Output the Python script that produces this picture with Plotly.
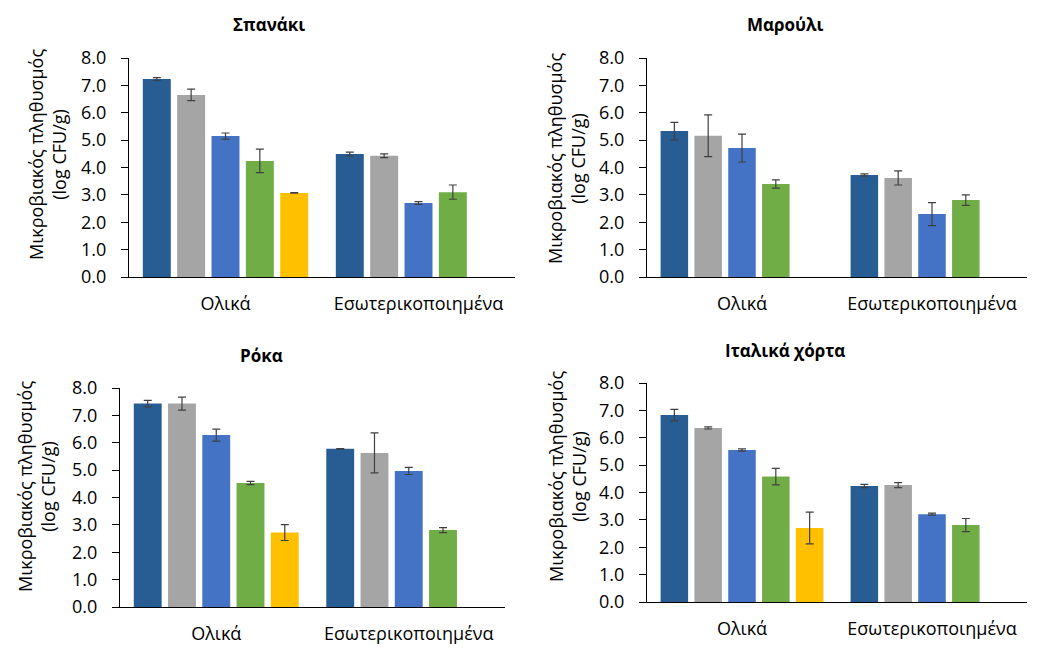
import plotly.graph_objects as go

OFF = 8  # page body margin
W, H = 1047 - OFF, 657 - OFF

categories = ["Ολικά", "Εσωτερικοποιημένα"]
series_names = ["Σειρά 1", "Σειρά 2", "Σειρά 3", "Σειρά 4", "Σειρά 5"]
series_colors = ["#285d94", "#a5a5a5", "#4472c4", "#70ad47", "#ffc000"]
titles = ["Σπανάκι", "Μαρούλι", "Ρόκα", "Ιταλικά χόρτα"]
y_ticks = [0, 1, 2, 3, 4, 5, 6, 7, 8]
y_title = "Μικροβιακός πληθυσμός<br>(log CFU/g)"

# values per series: [Ολικά, Εσωτερικοποιημένα]
spanaki_vals = [[7.23, 4.49], [6.65, 4.43], [5.15, 2.70], [4.24, 3.10], [3.07, None]]
spanaki_errs = [[0.05, 0.07], [0.21, 0.07], [0.11, 0.05], [0.43, 0.26], [0.01, None]]

marouli_vals = [[5.33, 3.73], [5.16, 3.62], [4.71, 2.30], [3.40, 2.81], [None, None]]
marouli_errs = [[0.32, 0.04], [0.76, 0.26], [0.51, 0.42], [0.15, 0.19], [None, None]]

roka_vals = [[7.43, 5.78], [7.43, 5.63], [6.28, 4.97], [4.53, 2.81], [2.72, None]]
roka_errs = [[0.12, 0.01], [0.24, 0.73], [0.22, 0.13], [0.06, 0.09], [0.29, None]]

italika_vals = [[6.83, 4.24], [6.36, 4.27], [5.55, 3.21], [4.58, 2.81], [2.70, None]]
italika_errs = [[0.21, 0.06], [0.04, 0.09], [0.04, 0.04], [0.30, 0.24], [0.58, None]]

panels_vals = [spanaki_vals, marouli_vals, roka_vals, italika_vals]
panels_errs = [spanaki_errs, marouli_errs, roka_errs, italika_errs]

# pixel layout in page coords: (x_left, x_right, y_top, y_bottom)
boxes = [(129, 515, 58, 277), (647, 1027, 58, 277),
         (120, 505, 388, 607), (647, 1027, 383, 602)]
title_pos = [(269, 25), (785, 25), (261, 355), (785, 350)]
ytitle_pos = [(47, 155), (566, 159), (36, 487), (567, 477)]


def px(x):
    return (x - OFF) / W


def py(y):
    return 1 - (y - OFF) / H


FONT = "Open Sans"
fig = go.Figure()
layout = dict(
    width=W, height=H, margin=dict(l=0, r=0, t=0, b=0, autoexpand=False),
    paper_bgcolor="white", plot_bgcolor="white",
    barmode="group", bargap=0.11, bargroupgap=0.186,
    showlegend=False, font=dict(family=FONT, color="#000000"),
)
annotations = []
for p in range(4):
    xa = "x" if p == 0 else f"x{p+1}"
    ya = "y" if p == 0 else f"y{p+1}"
    xl, xr, yt, yb = boxes[p]
    for s in range(5):
        fig.add_trace(go.Bar(
            x=categories, y=panels_vals[p][s], name=series_names[s],
            marker=dict(color=series_colors[s], line=dict(width=0)),
            error_y=dict(type="data", array=panels_errs[p][s], visible=True,
                         color="#404040", thickness=1.2, width=4),
            xaxis=xa, yaxis=ya,
        ))
    layout["xaxis" if p == 0 else f"xaxis{p+1}"] = dict(
        domain=[px(xl), px(xr)], anchor=ya, automargin=False,
        showline=True, linecolor="#000000", linewidth=1, ticks="",
        showgrid=False, tickfont=dict(size=18, family=FONT, color="#000000"),
        ticklabelstandoff=10,
    )
    layout["yaxis" if p == 0 else f"yaxis{p+1}"] = dict(
        domain=[py(yb), py(yt)], anchor=xa, automargin=False,
        range=[0, 8], tickvals=y_ticks, tickformat=".1f",
        showline=True, linecolor="#000000", linewidth=1,
        ticks="outside", ticklen=7, tickcolor="#000000",
        showgrid=False, zeroline=False, ticklabelstandoff=11,
        tickfont=dict(size=18, family=FONT, color="#000000"),
    )
    tx, ty = title_pos[p]
    annotations.append(dict(
        text="<b>" + titles[p] + "</b>", x=px(tx), y=py(ty),
        xref="paper", yref="paper", xanchor="center", yanchor="middle",
        showarrow=False, font=dict(size=17, family=FONT, color="#000000"),
    ))
    ax, ay = ytitle_pos[p]
    annotations.append(dict(
        text=y_title, x=px(ax), y=py(ay), textangle=-90,
        xref="paper", yref="paper", xanchor="center", yanchor="middle",
        showarrow=False, font=dict(size=18, family=FONT, color="#000000"),
    ))
layout["annotations"] = annotations
fig.update_layout(**layout)
fig.write_html("out.html")
